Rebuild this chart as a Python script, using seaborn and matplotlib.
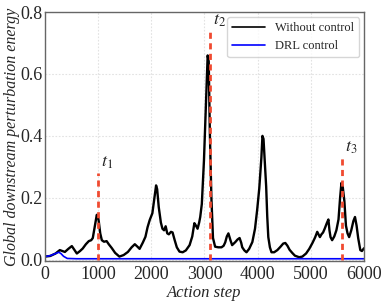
import matplotlib
matplotlib.use("Agg")
import numpy as np
import pandas as pd
import matplotlib.pyplot as plt
import seaborn as sns

# values
steps_nc = [0, 100, 200, 280, 330, 375, 440, 506, 560, 600, 660, 710, 770, 825, 870, 900,
            940, 975, 1000, 1015, 1040, 1070, 1110, 1160, 1200, 1255, 1320, 1400, 1480, 1560,
            1630, 1690, 1740, 1780, 1840, 1890, 1930, 1970, 2020, 2060, 2090, 2110, 2140, 2180,
            2210, 2240, 2270, 2300, 2330, 2370, 2400, 2440, 2480, 2530, 2590, 2650, 2720, 2770,
            2810, 2840, 2870, 2900, 2920, 2950, 2990, 3030, 3060, 3080, 3100, 3130, 3160, 3200,
            3260, 3320, 3360, 3390, 3420, 3450, 3490, 3520, 3550, 3580, 3620, 3660, 3690, 3710,
            3750, 3790, 3840, 3900, 3950, 3990, 4030, 4070, 4090, 4110, 4140, 4160, 4180, 4200,
            4230, 4260, 4310, 4370, 4430, 4480, 4520, 4560, 4600, 4650, 4700, 4780, 4840, 4910,
            4970, 5030, 5080, 5120, 5150, 5170, 5200, 5230, 5260, 5300, 5330, 5350, 5370, 5400,
            5440, 5480, 5520, 5550, 5575, 5600, 5630, 5660, 5690, 5720, 5760, 5800, 5830, 5860,
            5890, 5930, 5960, 6000]
energy_nc = [0.010, 0.012, 0.020, 0.031, 0.028, 0.025, 0.035, 0.044, 0.030, 0.020, 0.028, 0.036,
             0.050, 0.060, 0.063, 0.070, 0.110, 0.145, 0.138, 0.120, 0.085, 0.063, 0.058, 0.060,
             0.050, 0.038, 0.022, 0.010, 0.015, 0.025, 0.040, 0.050, 0.042, 0.035, 0.055, 0.074,
             0.105, 0.128, 0.150, 0.200, 0.240, 0.228, 0.170, 0.120, 0.100, 0.095, 0.108, 0.085,
             0.082, 0.090, 0.088, 0.063, 0.040, 0.026, 0.024, 0.030, 0.047, 0.075, 0.118, 0.110,
             0.100, 0.120, 0.138, 0.180, 0.320, 0.520, 0.660, 0.640, 0.420, 0.200, 0.070, 0.042,
             0.040, 0.040, 0.045, 0.056, 0.075, 0.085, 0.062, 0.047, 0.052, 0.057, 0.065, 0.070,
             0.055, 0.040, 0.030, 0.024, 0.035, 0.057, 0.100, 0.160, 0.230, 0.330, 0.400, 0.390,
             0.300, 0.236, 0.140, 0.073, 0.040, 0.024, 0.024, 0.031, 0.042, 0.052, 0.054, 0.045,
             0.032, 0.022, 0.013, 0.008, 0.010, 0.020, 0.035, 0.054, 0.072, 0.090, 0.080, 0.073,
             0.082, 0.088, 0.100, 0.118, 0.130, 0.095, 0.073, 0.063, 0.075, 0.095, 0.130, 0.200,
             0.248, 0.235, 0.190, 0.110, 0.085, 0.073, 0.095, 0.125, 0.138, 0.110, 0.070, 0.031,
             0.028, 0.037]

steps_drl = [0, 100, 200, 260, 300, 350, 420, 600, 1000, 2000, 3000, 4000, 5000, 6000]
energy_drl = [0.010, 0.013, 0.020, 0.024, 0.020, 0.011, 0.004, 0.003, 0.003, 0.003, 0.003,
              0.003, 0.003, 0.003]

event_steps = [1000, 3100, 5580]
event_tops = [0.28, 0.74, 0.33]
event_labels = ["$t_1$", "$t_2$", "$t_3$"]

df = pd.concat([
    pd.DataFrame({"step": steps_nc, "energy": energy_nc, "case": "Without control"}),
    pd.DataFrame({"step": steps_drl, "energy": energy_drl, "case": "DRL control"}),
])

sns.set_theme(style="whitegrid")
plt.rcParams["font.family"] = ["Liberation Serif", "DejaVu Serif"]
plt.rcParams["mathtext.fontset"] = "stix"

fig = plt.figure(figsize=(3.84, 3.02), dpi=100)
ax = fig.add_axes([0.117, 0.136, 0.831, 0.824])

sns.lineplot(data=df, x="step", y="energy", hue="case", estimator=None, sort=False,
             palette={"Without control": "black", "DRL control": "blue"},
             ax=ax, linewidth=1.7)
for ln in ax.get_lines():
    if ln.get_color() == "blue":
        ln.set_linewidth(1.2)

for s, top, lab in zip(event_steps, event_tops, event_labels):
    ax.plot([s, s], [0, top], color="#f04a30", linewidth=2, linestyle=(0, (2.2, 1.6)), zorder=3)
    ax.text(s + 60, top + 0.005, lab, fontsize=13, ha="left", va="bottom")

ax.set_xlim(0, 6000)
ax.set_ylim(-0.004, 0.8)
ax.set_xticks([0, 1000, 2000, 3000, 4000, 5000, 6000])
ax.set_yticks([0.0, 0.2, 0.4, 0.6, 0.8])
ax.tick_params(labelsize=13, length=0)
ax.tick_params(axis="x", pad=4)
ax.tick_params(axis="y", pad=2)
ax.set_xlabel("Action step", fontsize=12, style="italic", labelpad=1)
ax.set_ylabel("Global downstream perturbation energy", fontsize=11.5, style="italic", labelpad=0)
ax.grid(True, color="#e2e2e2", linestyle=(0, (1.5, 1.5)), linewidth=0.8)
for sp in ax.spines.values():
    sp.set_color("0.4")
    sp.set_linewidth(1)

leg = ax.legend(loc="upper right", fontsize=9, frameon=True, borderaxespad=0.4,
                handlelength=2.6)
leg.get_frame().set_edgecolor("#cccccc")
for h in leg.get_lines():
    h.set_linewidth(1.2)

fig.savefig("out.png", dpi=100)
